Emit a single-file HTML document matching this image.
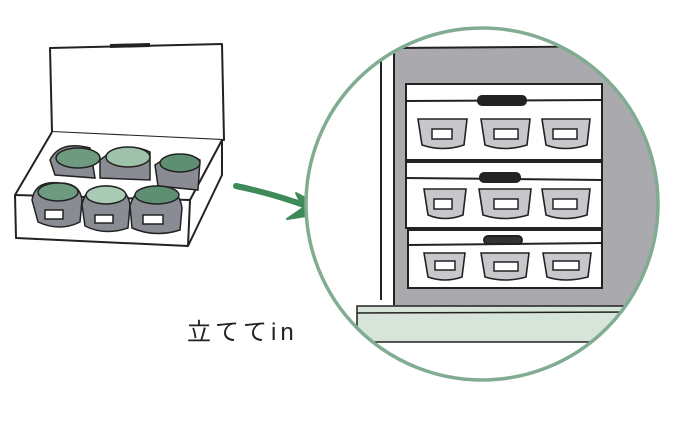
<!DOCTYPE html>
<html><head><meta charset="utf-8"><style>
html,body{margin:0;padding:0;background:#fff;width:680px;height:426px;overflow:hidden}
</style></head><body>
<svg width="680" height="426" viewBox="0 0 680 426" xmlns="http://www.w3.org/2000/svg">
<defs><clipPath id="c"><circle cx="482" cy="204" r="176"/></clipPath></defs>
<rect width="680" height="426" fill="#fff"/>
<g stroke="#222" stroke-width="2" fill="none" stroke-linejoin="round">
<path d="M50 48 L222 44 L224 140 L52 132 Z" fill="#fff"/>
<path d="M110 46 L150 45" stroke-width="4"/>
<path d="M52 132 L15 195 L190 200 L222 140" fill="#fff"/>
<path d="M15 195 L16 238 L188 246 L190 200"/>
<path d="M188 246 L222 175 L222 140"/>
</g>
<g stroke="#222" stroke-width="1.5">
<path d="M50 160 Q60 140 90 148 L95 178 L55 175Z" fill="#8a8c94"/>
<path d="M100 160 Q125 140 150 152 L150 180 L100 178Z" fill="#8a8c94"/>
<path d="M155 165 Q180 148 200 160 L198 190 L158 186Z" fill="#8a8c94"/>
<ellipse cx="78" cy="158" rx="22" ry="10" fill="#6e9a80"/>
<ellipse cx="128" cy="157" rx="22" ry="10" fill="#9ec2aa"/>
<ellipse cx="180" cy="163" rx="20" ry="9" fill="#5f8f72"/>
<path d="M32 200 Q35 180 60 183 Q80 183 82 200 L80 222 Q60 232 38 222Z" fill="#8a8c94"/>
<path d="M82 205 Q85 185 108 186 Q128 188 130 205 L128 228 Q105 236 85 226Z" fill="#8a8c94"/>
<path d="M130 206 Q135 185 160 186 Q180 190 182 208 L180 230 Q155 238 132 228Z" fill="#8a8c94"/>
<ellipse cx="58" cy="192" rx="20" ry="9" fill="#6e9a80"/>
<ellipse cx="106" cy="195" rx="20" ry="9" fill="#a9cbb3"/>
<ellipse cx="157" cy="195" rx="22" ry="9" fill="#5f8f72"/>
<rect x="45" y="210" width="18" height="9" fill="#fff"/>
<rect x="95" y="215" width="18" height="8" fill="#fff"/>
<rect x="143" y="215" width="20" height="9" fill="#fff"/>
</g>
<path d="M236 186 Q275 194 312 208" stroke="#3f8a5a" stroke-width="6" fill="none" stroke-linecap="round"/>
<path d="M296 193 L332 212 L287 219 L303 208 Z" fill="#3f8a5a" stroke="#3f8a5a" stroke-width="2" stroke-linejoin="round"/>
<g clip-path="url(#c)">
<rect x="300" y="20" width="370" height="370" fill="#fff"/>
<rect x="394" y="48" width="280" height="260" fill="#a9a9ae"/>
<path d="M394 48 L674 46 M381 60 L381 300 M394 48 L394 305" stroke="#222" stroke-width="2" fill="none"/>
<rect x="357" y="306" width="320" height="36" fill="#d6e4d9" stroke="#222" stroke-width="1.5"/>
<path d="M357 313 L640 312" stroke="#222" stroke-width="1.5"/>
<g stroke="#222" stroke-width="2">
<rect x="406" y="84" width="196" height="76" fill="#fff"/>
<path d="M406 101 L602 100" fill="none"/>
<rect x="478" y="96" width="48" height="9" rx="4" fill="#222"/>
<rect x="406" y="162" width="196" height="66" fill="#fff"/>
<path d="M406 178 L602 180" fill="none"/>
<rect x="480" y="173" width="40" height="9" rx="4" fill="#222"/>
<rect x="408" y="230" width="194" height="58" fill="#fff"/>
<path d="M408 245 L602 243" fill="none"/>
<rect x="484" y="236" width="38" height="8" rx="4" fill="#333"/>
</g>
<g stroke="#222" stroke-width="1.6" fill="#c8c8cc">
<path d="M418 119 L467 119 L464 145 Q443 152 422 145Z"/>
<path d="M481 119 L530 119 L527 145 Q505 152 485 145Z"/>
<path d="M542 119 L590 119 L587 145 Q565 152 546 145Z"/>
<path d="M424 189 L466 189 L463 215 Q445 222 428 215Z"/>
<path d="M479 189 L531 189 L528 215 Q505 222 483 215Z"/>
<path d="M542 189 L590 189 L587 215 Q565 222 546 215Z"/>
<path d="M424 253 L465 253 L462 277 Q445 283 428 277Z"/>
<path d="M481 253 L529 253 L526 277 Q505 283 485 277Z"/>
<path d="M543 253 L591 253 L588 277 Q565 283 547 277Z"/>
</g>
<g stroke="#222" stroke-width="1.5" fill="#fff">
<rect x="432" y="129" width="20" height="10"/><rect x="494" y="129" width="24" height="10"/><rect x="553" y="129" width="24" height="10"/>
<rect x="434" y="199" width="18" height="10"/><rect x="494" y="199" width="24" height="10"/><rect x="553" y="199" width="24" height="10"/>
<rect x="435" y="261" width="20" height="9"/><rect x="494" y="262" width="24" height="9"/><rect x="553" y="261" width="26" height="9"/>
</g>
</g>
<circle cx="482" cy="204" r="176" fill="none" stroke="#80ac92" stroke-width="3.5"/>
<text x="187" y="340" font-family="'Liberation Sans','Noto Sans CJK JP',sans-serif" font-size="24" letter-spacing="4" fill="#222">立ててin</text>
</svg>
</body></html>
